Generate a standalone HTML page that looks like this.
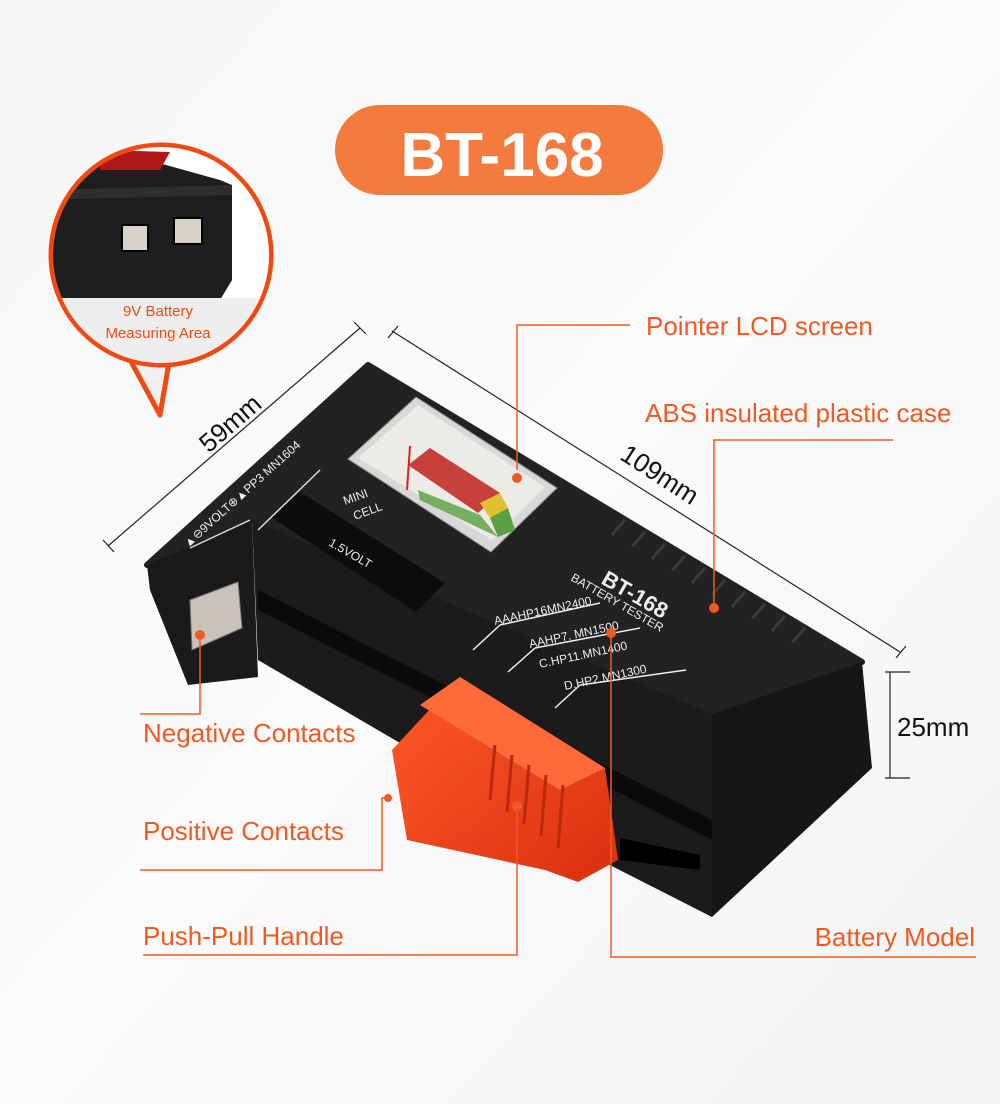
<!DOCTYPE html>
<html><head><meta charset="utf-8"><style>
html,body{margin:0;padding:0;width:1000px;height:1104px;overflow:hidden;background:#f7f8fa;}
svg{display:block}
text{font-family:"Liberation Sans",sans-serif}
</style></head><body>
<svg width="1000" height="1104" viewBox="0 0 1000 1104" xmlns="http://www.w3.org/2000/svg">
<defs>
<linearGradient id="bg" x1="0" y1="0" x2="1" y2="1"><stop offset="0" stop-color="#f4f6f8"/><stop offset="0.5" stop-color="#fbfbfc"/><stop offset="1" stop-color="#f2f3f5"/></linearGradient>
<linearGradient id="hd" x1="0" y1="0" x2="1" y2="1"><stop offset="0" stop-color="#ff5a2a"/><stop offset="1" stop-color="#d8300e"/></linearGradient>
<clipPath id="cc"><circle cx="161" cy="255" r="108"/></clipPath>
</defs>
<rect width="1000" height="1104" fill="url(#bg)"/>
<!-- title pill -->
<rect x="335" y="105" width="328" height="90" rx="45" fill="#f47a3e"/>
<text x="502" y="176" font-size="62" font-weight="bold" fill="#fff" text-anchor="middle">BT-168</text>
<!-- callout bubble -->
<path d="M122 345 L160 415 L172 345 Z" fill="#f0f0f0" stroke="#f04a12" stroke-width="5" stroke-linejoin="round"/>
<circle cx="161" cy="255" r="110" fill="#fff" stroke="#f04a12" stroke-width="5"/>
<g clip-path="url(#cc)">
<rect x="40" y="130" width="250" height="240" fill="#fff"/>
<path d="M40 175 L130 155 L220 180 L232 185 L232 280 L220 300 L40 300 Z" fill="#1e1e1e"/>
<path d="M100 150 L170 152 L160 170 L100 170 Z" fill="#b01818"/>
<path d="M40 190 L232 185 L232 195 L40 200 Z" fill="#2e2e2e"/>
<rect x="122" y="225" width="26" height="26" fill="#d8d2c8" stroke="#000" stroke-width="2"/>
<rect x="174" y="218" width="28" height="26" fill="#d8d2c8" stroke="#000" stroke-width="2"/>
<rect x="40" y="298" width="250" height="80" fill="#eeeeee"/>
</g>
<text x="158" y="316" font-size="15" fill="#f04a12" text-anchor="middle">9V Battery</text>
<text x="158" y="338" font-size="15" fill="#f04a12" text-anchor="middle">Measuring Area</text>
<!-- dimension lines -->
<g stroke="#222" stroke-width="1.2" fill="none">
<line x1="108" y1="546" x2="360" y2="328"/><line x1="103" y1="540" x2="114" y2="552"/><line x1="354" y1="322" x2="366" y2="334"/>
<line x1="392" y1="331" x2="900" y2="652"/><line x1="398" y1="326" x2="388" y2="338"/><line x1="906" y1="646" x2="896" y2="658"/>
<line x1="890" y1="672" x2="890" y2="778"/><line x1="885" y1="672" x2="910" y2="672"/><line x1="885" y1="778" x2="910" y2="778"/>
</g>
<text x="236" y="430" font-size="26" fill="#111" transform="rotate(-41 236 430)" text-anchor="middle">59mm</text>
<text x="655" y="482" font-size="26" fill="#111" transform="rotate(33 655 482)" text-anchor="middle">109mm</text>
<text x="897" y="736" font-size="26" fill="#111">25mm</text>
<!-- device body -->
<path d="M147 565 L368 365 L862 662 L712 714 L252 520 Z" fill="#222" stroke="#222" stroke-width="6" stroke-linejoin="round"/>
<path d="M147 565 L252 520 L258 677 L188 685 L150 590 Z" fill="#1a1a1a"/>
<path d="M252 520 L712 714 L712 917 L600 860 L258 660 Z" fill="#1b1b1b"/>
<path d="M258 590 L712 820 L712 840 L258 610 Z" fill="#0a0a0a"/>
<path d="M712 714 L862 662 L872 768 L712 917 Z" fill="#161616"/>
<path d="M620 838 L700 855 L700 870 L620 860 Z" fill="#000"/>
<!-- left contact -->
<path d="M190 600 L238 582 L242 628 L192 650 Z" fill="#c8c2ba" stroke="#777"/>
<!-- slot -->
<path d="M271 517 L300 492 L445 583 L416 612 Z" fill="#0c0c0c"/>
<line x1="258" y1="530" x2="320" y2="470" stroke="#ddd" stroke-width="1.5"/>
<line x1="190" y1="548" x2="250" y2="520" stroke="#ddd" stroke-width="1.5"/>
<!-- LCD window -->
<path d="M348 459 L416 397 L557 488 L491 552 Z" fill="#d8d8d8" stroke="#888"/>
<path d="M358 458 L418 405 L545 487 L492 540 Z" fill="#ecebe6"/>
<path d="M408 465 L430 448 L500 493 L478 513 Z" fill="#c8403a"/>
<path d="M480 503 L500 493 L508 508 L490 518 Z" fill="#e0c030"/>
<path d="M490 518 L508 508 L515 530 L498 537 Z" fill="#5aa040"/>
<path d="M418 490 L480 515 L498 537 L420 500 Z" fill="#5aa040" opacity=".8"/>
<line x1="410" y1="446" x2="407" y2="490" stroke="#e02020" stroke-width="2"/>
<!-- ribs -->
<g stroke="#3a3a3a" stroke-width="3">
<line x1="625" y1="520" x2="612" y2="535"/><line x1="645" y1="532" x2="632" y2="547"/><line x1="665" y1="544" x2="652" y2="559"/><line x1="685" y1="556" x2="672" y2="571"/><line x1="705" y1="568" x2="692" y2="583"/><line x1="725" y1="580" x2="712" y2="595"/><line x1="745" y1="592" x2="732" y2="607"/><line x1="765" y1="604" x2="752" y2="619"/><line x1="785" y1="616" x2="772" y2="631"/><line x1="805" y1="628" x2="792" y2="643"/>
</g>
<g fill="#eee" font-size="12">
<text x="600" y="583" font-size="22" font-weight="bold" transform="rotate(30 600 583)">BT-168</text>
<text x="570" y="580" transform="rotate(30 570 580)">BATTERY TESTER</text>
<text x="495" y="625" transform="rotate(-12 495 625)">AAAHP16MN2400</text>
<text x="530" y="648" transform="rotate(-12 530 648)">AAHP7. MN1500</text>
<text x="540" y="668" transform="rotate(-12 540 668)">C.HP11.MN1400</text>
<text x="565" y="690" transform="rotate(-12 565 690)">D.HP2.MN1300</text>
<text x="328" y="545" transform="rotate(30 328 545)">1.5VOLT</text>
<text x="345" y="505" transform="rotate(-20 345 505)">MINI</text>
<text x="355" y="520" transform="rotate(-20 355 520)">CELL</text>
<text x="188" y="548" transform="rotate(-42 188 548)">▲⊖9VOLT⊕▲PP3 MN1604</text>
</g>
<g stroke="#eee" stroke-width="1.5">
<line x1="473" y1="650" x2="500" y2="625"/><line x1="500" y1="625" x2="600" y2="603"/>
<line x1="508" y1="672" x2="535" y2="648"/><line x1="535" y1="648" x2="640" y2="628"/>
<line x1="555" y1="708" x2="580" y2="685"/><line x1="580" y1="685" x2="686" y2="670"/>
</g>
<!-- handle -->
<path d="M392 750 L460 677 L605 768 L618 860 L578 882 L545 870 L407 840 Z" fill="url(#hd)"/>
<path d="M460 677 L605 768 L560 790 L420 705 Z" fill="#ff6a3a"/>
<g stroke="#b82a0a" stroke-width="3"><line x1="495" y1="745" x2="490" y2="800"/><line x1="512" y1="755" x2="507" y2="812"/><line x1="529" y1="765" x2="524" y2="824"/><line x1="546" y1="775" x2="541" y2="836"/><line x1="563" y1="785" x2="558" y2="848"/></g>
<!-- leader lines -->
<g stroke="#f05a22" stroke-width="1.5" fill="none">
<polyline points="630,325 517,325 517,470"/>
<polyline points="893,440 714,440 714,605"/>
<polyline points="200,635 200,714 140,714"/>
<polyline points="388,798 382,798 382,870 140,870"/>
<polyline points="517,810 517,955 143,955"/>
<polyline points="611,633 611,957 976,957"/>
</g>
<g fill="#f05a22"><circle cx="517" cy="478" r="5"/><circle cx="714" cy="608" r="5"/><circle cx="200" cy="635" r="5"/><circle cx="517" cy="806" r="5"/><circle cx="611" cy="633" r="5"/><circle cx="388" cy="798" r="4"/></g>
<g fill="#f05a22" font-size="26">
<text x="646" y="335">Pointer LCD screen</text>
<text x="645" y="422">ABS insulated plastic case</text>
<text x="143" y="742">Negative Contacts</text>
<text x="143" y="840">Positive Contacts</text>
<text x="143" y="945">Push-Pull Handle</text>
<text x="975" y="946" text-anchor="end">Battery Model</text>
</g>
</svg>
</body></html>
